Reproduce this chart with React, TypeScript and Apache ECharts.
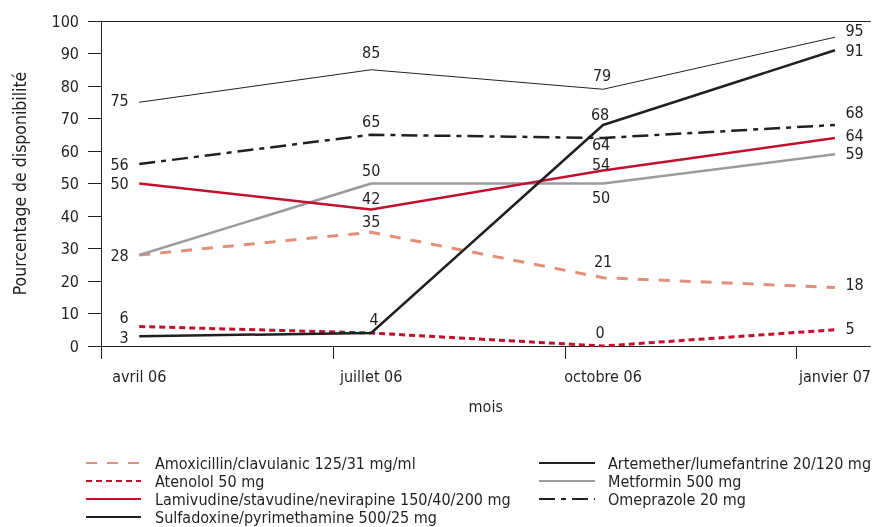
import React, { useEffect, useRef } from "react";
import * as echarts from "echarts";

// ---- data ----
const months = ["avril 06", "juillet 06", "octobre 06", "janvier 07"];
const yTicks = [0, 10, 20, 30, 40, 50, 60, 70, 80, 90, 100];
const amoxicillin = [28, 35, 21, 18];
const atenolol = [6, 4, 0, 5];
const lamivudine = [50, 42, 54, 64];
const sulfadoxine = [75, 85, 79, 95];
const artemether = [3, 4, 68, 91];
const metformin = [28, 50, 50, 59];
const omeprazole = [56, 65, 64, 68];

const names = {
  amox: "Amoxicillin/clavulanic 125/31 mg/ml",
  aten: "Atenolol 50 mg",
  lami: "Lamivudine/stavudine/nevirapine 150/40/200 mg",
  sulf: "Sulfadoxine/pyrimethamine 500/25 mg",
  arte: "Artemether/lumefantrine 20/120 mg",
  metf: "Metformin 500 mg",
  omep: "Omeprazole 20 mg",
};

// ---- label placement (style only): [position, distance, dx, dy] or null ----
type LP = [string, number, number, number] | null;
const FONT = "'DejaVu Sans Condensed', 'DejaVu Sans', sans-serif";
const TXT = "#231F20";

const seriesDefs: {
  name: string;
  values: number[];
  color: string;
  width: number;
  type: any;
  labels: LP[];
  z: number;
}[] = [
  {
    name: names.amox,
    values: amoxicillin,
    color: "#E0907A",
    width: 3,
    type: [11, 10],
    labels: [null, ["top", 2, 0, 0], ["top", 8, 0, 0], ["right", 10, 0, -3]],
    z: 2,
  },
  {
    name: names.aten,
    values: atenolol,
    color: "#C0102C",
    width: 3,
    type: [6, 4],
    labels: [["left", 10, 0, -9], null, ["top", 5, -3, 0], ["right", 10, 0, -1]],
    z: 3,
  },
  {
    name: names.lami,
    values: lamivudine,
    color: "#C0102C",
    width: 2.5,
    type: "solid",
    labels: [["left", 10, 0, 0], ["top", 3, 0, 0], ["top", 0, -2, 2], ["right", 10, 0, -3]],
    z: 3,
  },
  {
    name: names.sulf,
    values: sulfadoxine,
    color: TXT,
    width: 1,
    type: "solid",
    labels: [["left", 10, 0, -2], ["top", 9, 0, 0], ["top", 5, -1, 0], ["right", 10, 0, -7]],
    z: 4,
  },
  {
    name: names.arte,
    values: artemether,
    color: TXT,
    width: 2.5,
    type: "solid",
    labels: [["left", 10, 0, 1], ["top", 5, 3, 0], ["top", 2, -3, 0], ["right", 10, 0, 0]],
    z: 4,
  },
  {
    name: names.metf,
    values: metformin,
    color: "#9B9B9B",
    width: 2.5,
    type: "solid",
    labels: [["left", 10, 0, 0], ["top", 5, 0, 0], ["bottom", 5, -2, 0], ["right", 10, 0, -1]],
    z: 2,
  },
  {
    name: names.omep,
    values: omeprazole,
    color: TXT,
    width: 2.5,
    type: [16, 6, 5, 6],
    labels: [["left", 10, 0, 0], ["top", 5, 0, 0], ["bottom", 0, -2, -2], ["right", 10, 0, -13]],
    z: 4,
  },
];

const X_MIN = -0.165;
const X_MAX = 3.153;

export default function App() {
  const ref = useRef<HTMLDivElement>(null);

  useEffect(() => {
    if (!ref.current) return;
    const chart = echarts.init(ref.current, null, { renderer: "svg" });

    const series = seriesDefs.map((s) => ({
      type: "line",
      name: s.name,
      xAxisIndex: 0,
      yAxisIndex: 0,
      symbol: "circle",
      symbolSize: 1,
      showSymbol: true,
      z: s.z,
      color: s.color,
      lineStyle: { color: s.color, width: s.width, type: s.type, cap: "butt" },
      itemStyle: { color: "rgba(0,0,0,0)", borderWidth: 0 },
      data: s.values.map((v, i) => {
        const lp = s.labels[i];
        return {
          value: [i, v],
          label: lp
            ? {
                show: true,
                position: lp[0],
                distance: lp[1],
                offset: [lp[2], lp[3]],
                formatter: () => String(v),
                fontSize: 16,
                lineHeight: 16,
                fontFamily: FONT,
                color: TXT,
              }
            : { show: false },
        };
      }),
      emphasis: { disabled: true },
    }));

    const legendBase = {
      orient: "vertical",
      top: 454,
      itemHeight: 18,
      itemGap: 0,
      padding: 0,
      selectedMode: false,
      itemStyle: { opacity: 0 },
      textStyle: { fontSize: 16, fontFamily: FONT, color: TXT, lineHeight: 18 },
    };

    chart.setOption({
      animation: false,
      textStyle: { fontFamily: FONT },
      grid: { left: 101, right: 0, top: 21, bottom: 181, containLabel: false },
      xAxis: [
        {
          type: "value",
          min: X_MIN,
          max: X_MAX,
          interval: 1,
          position: "bottom",
          name: "mois",
          nameLocation: "middle",
          nameGap: 52,
          nameTextStyle: { fontSize: 16, fontFamily: FONT, color: TXT },
          axisLine: { show: true, onZero: false, lineStyle: { color: TXT, width: 1 } },
          axisTick: {
            show: true,
            length: 13,
            lineStyle: { color: TXT, width: 1 },
            customValues: [X_MIN, X_MIN + 1, X_MIN + 2, X_MIN + 3],
          },
          axisLabel: {
            show: true,
            margin: 22,
            fontSize: 16,
            fontFamily: FONT,
            color: TXT,
            customValues: [0, 1, 2, 3],
            formatter: (v: number) => months[Math.round(v)] ?? "",
          },
          splitLine: { show: false },
        },
        {
          type: "value",
          min: X_MIN,
          max: X_MAX,
          position: "top",
          axisLine: { show: true, onZero: false, lineStyle: { color: TXT, width: 1 } },
          axisTick: { show: false },
          axisLabel: { show: false },
          splitLine: { show: false },
        },
      ],
      yAxis: {
        type: "value",
        min: yTicks[0],
        max: yTicks[yTicks.length - 1],
        interval: 10,
        name: "Pourcentage de disponibilité",
        nameLocation: "middle",
        nameGap: 72,
        nameTextStyle: { fontSize: 17.5, fontFamily: FONT, color: TXT },
        axisLine: { show: true, onZero: false, lineStyle: { color: TXT, width: 1 } },
        axisTick: { show: true, length: 13, lineStyle: { color: TXT, width: 1 } },
        axisLabel: { margin: 22, fontSize: 16, fontFamily: FONT, color: TXT },
        splitLine: { show: false },
      },
      legend: [
        {
          ...legendBase,
          left: 85,
          itemWidth: 55,
          textStyle: { ...legendBase.textStyle, padding: [0, 0, 0, 9] },
          data: [names.amox, names.aten, names.lami, names.sulf],
        },
        {
          ...legendBase,
          left: 538,
          itemWidth: 56,
          textStyle: { ...legendBase.textStyle, padding: [0, 0, 0, 8] },
          data: [names.arte, names.metf, names.omep],
        },
      ],
      series,
    });

    return () => chart.dispose();
  }, []);

  return <div ref={ref} style={{ width: 874, height: 527, position: "fixed", left: 0, top: 0 }} />;
}
